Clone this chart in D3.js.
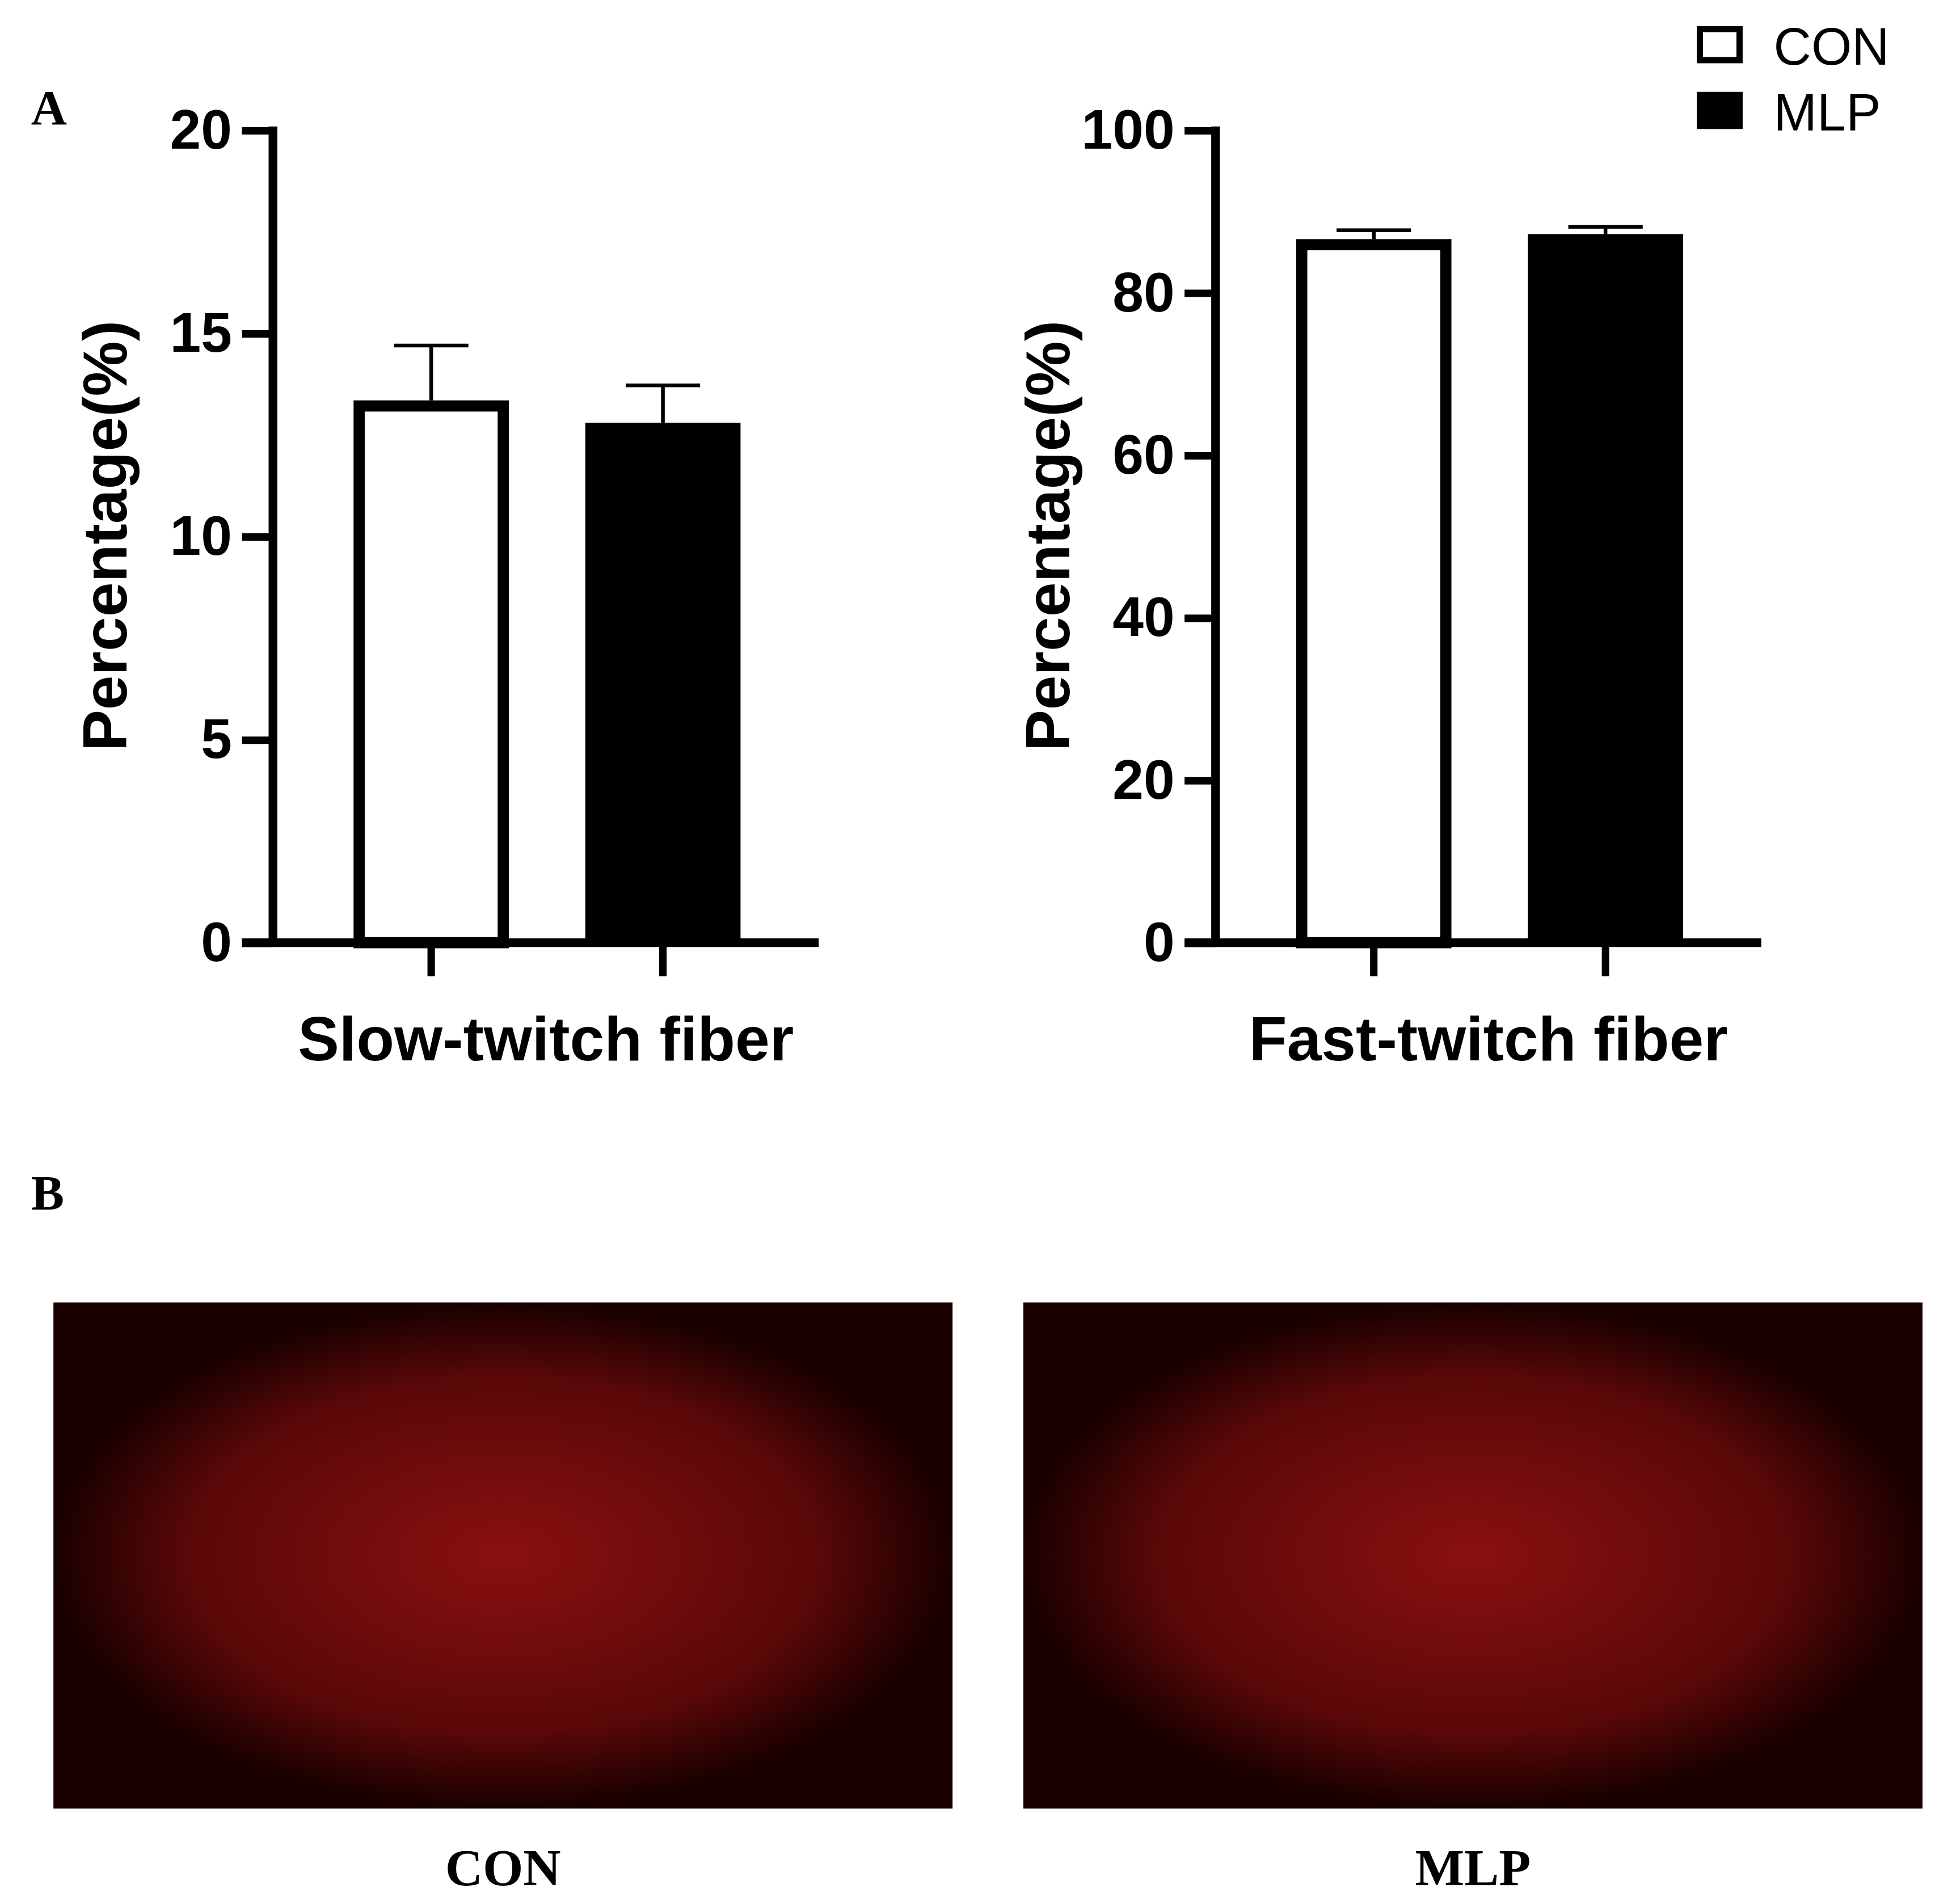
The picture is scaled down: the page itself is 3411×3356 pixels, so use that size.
<!DOCTYPE html>
<html><head><meta charset="utf-8">
<script src="https://cdn.jsdelivr.net/npm/d3@7"></script>
<style>body{margin:0;background:#fff}svg{display:block}</style>
</head><body>
<svg id="fig" width="3411" height="3356" viewBox="0 0 1560 1535"></svg>
<script>
const groups = ["CON", "MLP"];
const slowMeans = [13.35, 12.8];
const slowErr = [14.7, 13.72];
const fastMeans = [86.6, 87.2];
const fastErr = [87.7, 88.1];
const slowTicks = [0, 5, 10, 15, 20];
const fastTicks = [0, 20, 40, 60, 80, 100];

const svg = d3.select("#fig");
const font = "Arial, 'Liberation Sans', sans-serif";

function drawPanel(x0, x1, axisX, yMax, ticks, means, errs, label) {
  const y = d3.scaleLinear().domain([0, yMax]).range([760, 105]);
  const x = d3.scaleBand().domain(groups).range([axisX + 65, axisX + 377]).paddingInner(0.33).paddingOuter(0);
  const g = svg.append("g");

  // --- Bars ---
  g.selectAll(".bar").data(groups).join("rect")
    .attr("x", d => x(d) + (d === "CON" ? 4.5 : 0))
    .attr("width", d => x.bandwidth() - (d === "CON" ? 9 : 0))
    .attr("y", (d, i) => y(means[i]) + (d === "CON" ? 4.5 : 0))
    .attr("height", (d, i) => 760 - y(means[i]) - (d === "CON" ? 4.5 : 0))
    .attr("fill", d => d === "CON" ? "#fff" : "#000")
    .attr("stroke", "#000").attr("stroke-width", d => d === "CON" ? 9 : 0);

  // --- Error bars ---
  const cx = d => x(d) + x.bandwidth() / 2;
  g.selectAll(".err").data(groups).join("line")
    .attr("x1", cx).attr("x2", cx)
    .attr("y1", (d, i) => y(means[i])).attr("y2", (d, i) => y(errs[i]))
    .attr("stroke", "#000").attr("stroke-width", 3);
  g.selectAll(".cap").data(groups).join("line")
    .attr("x1", d => cx(d) - 30).attr("x2", d => cx(d) + 30)
    .attr("y1", (d, i) => y(errs[i])).attr("y2", (d, i) => y(errs[i]))
    .attr("stroke", "#000").attr("stroke-width", 3);

  // --- Axes ---
  const ya = g.append("g").attr("transform", `translate(${axisX},0)`)
    .call(d3.axisLeft(y).tickValues(ticks).tickSize(25).tickPadding(8).tickSizeOuter(0));
  ya.select(".domain").attr("stroke-width", 7).attr("d", `M0,${y(yMax) - 3}V${y(0)}`);
  ya.selectAll(".tick line").attr("stroke-width", 6);
  ya.selectAll(".tick text").attr("font-family", font).attr("font-weight", "bold")
    .attr("font-size", 45).attr("fill", "#000");

  g.append("line").attr("x1", x0).attr("x2", x1).attr("y1", 760).attr("y2", 760)
    .attr("stroke", "#000").attr("stroke-width", 7);
  g.selectAll(".xt").data(groups).join("line")
    .attr("x1", cx).attr("x2", cx).attr("y1", 760).attr("y2", 787)
    .attr("stroke", "#000").attr("stroke-width", 6);

  g.append("text").attr("x", axisX + 220).attr("y", 855).attr("text-anchor", "middle")
    .attr("font-family", font).attr("font-weight", "bold").attr("font-size", 50).text(label);
  g.append("text").attr("transform", `translate(${axisX - 118},432) rotate(-90)`)
    .attr("text-anchor", "middle").attr("font-family", font).attr("font-weight", "bold")
    .attr("font-size", 50).text("Percentage(%)");
}

drawPanel(195, 660, 220, 20, slowTicks, slowMeans, slowErr, "Slow-twitch fiber");
drawPanel(955, 1420, 980, 100, fastTicks, fastMeans, fastErr, "Fast-twitch fiber");

// --- Legend ---
const leg = svg.append("g").selectAll("g").data(groups).join("g")
  .attr("transform", (d, i) => `translate(1368,${21 + i * 53})`);
leg.append("rect").attr("x", d => d === "CON" ? 2.5 : 0).attr("y", d => d === "CON" ? 2.5 : 0)
  .attr("width", d => d === "CON" ? 32 : 37).attr("height", d => d === "CON" ? 25 : 30)
  .attr("fill", d => d === "CON" ? "#fff" : "#000").attr("stroke", "#000")
  .attr("stroke-width", d => d === "CON" ? 5 : 0);
leg.append("text").attr("x", 62).attr("y", 31).attr("font-family", font)
  .attr("font-size", 42).text(d => d);

// --- Panel letters ---
svg.append("text").attr("x", 25).attr("y", 100).attr("font-family", "'Liberation Serif', serif")
  .attr("font-weight", "bold").attr("font-size", 40).text("A");
svg.append("text").attr("x", 25).attr("y", 975).attr("font-family", "'Liberation Serif', serif")
  .attr("font-weight", "bold").attr("font-size", 40).text("B");

// --- Micrograph placeholders ---
const defs = svg.append("defs");
const grad = defs.append("radialGradient").attr("id", "tissue");
grad.append("stop").attr("offset", "0%").attr("stop-color", "#8a1010");
grad.append("stop").attr("offset", "70%").attr("stop-color", "#5a0808");
grad.append("stop").attr("offset", "100%").attr("stop-color", "#1a0000");
const imgX = d3.scaleBand().domain(groups).range([43, 1550]).paddingInner(0.073);
const imgs = svg.append("g").selectAll("g").data(groups).join("g");
imgs.append("rect").attr("x", d => imgX(d)).attr("y", 1050)
  .attr("width", imgX.bandwidth()).attr("height", 408).attr("fill", "url(#tissue)");
imgs.append("text").attr("x", d => imgX(d) + imgX.bandwidth() / 2).attr("y", 1520)
  .attr("text-anchor", "middle").attr("font-family", "'Liberation Serif', serif")
  .attr("font-weight", "bold").attr("font-size", 42).text(d => d);
</script>
</body></html>
